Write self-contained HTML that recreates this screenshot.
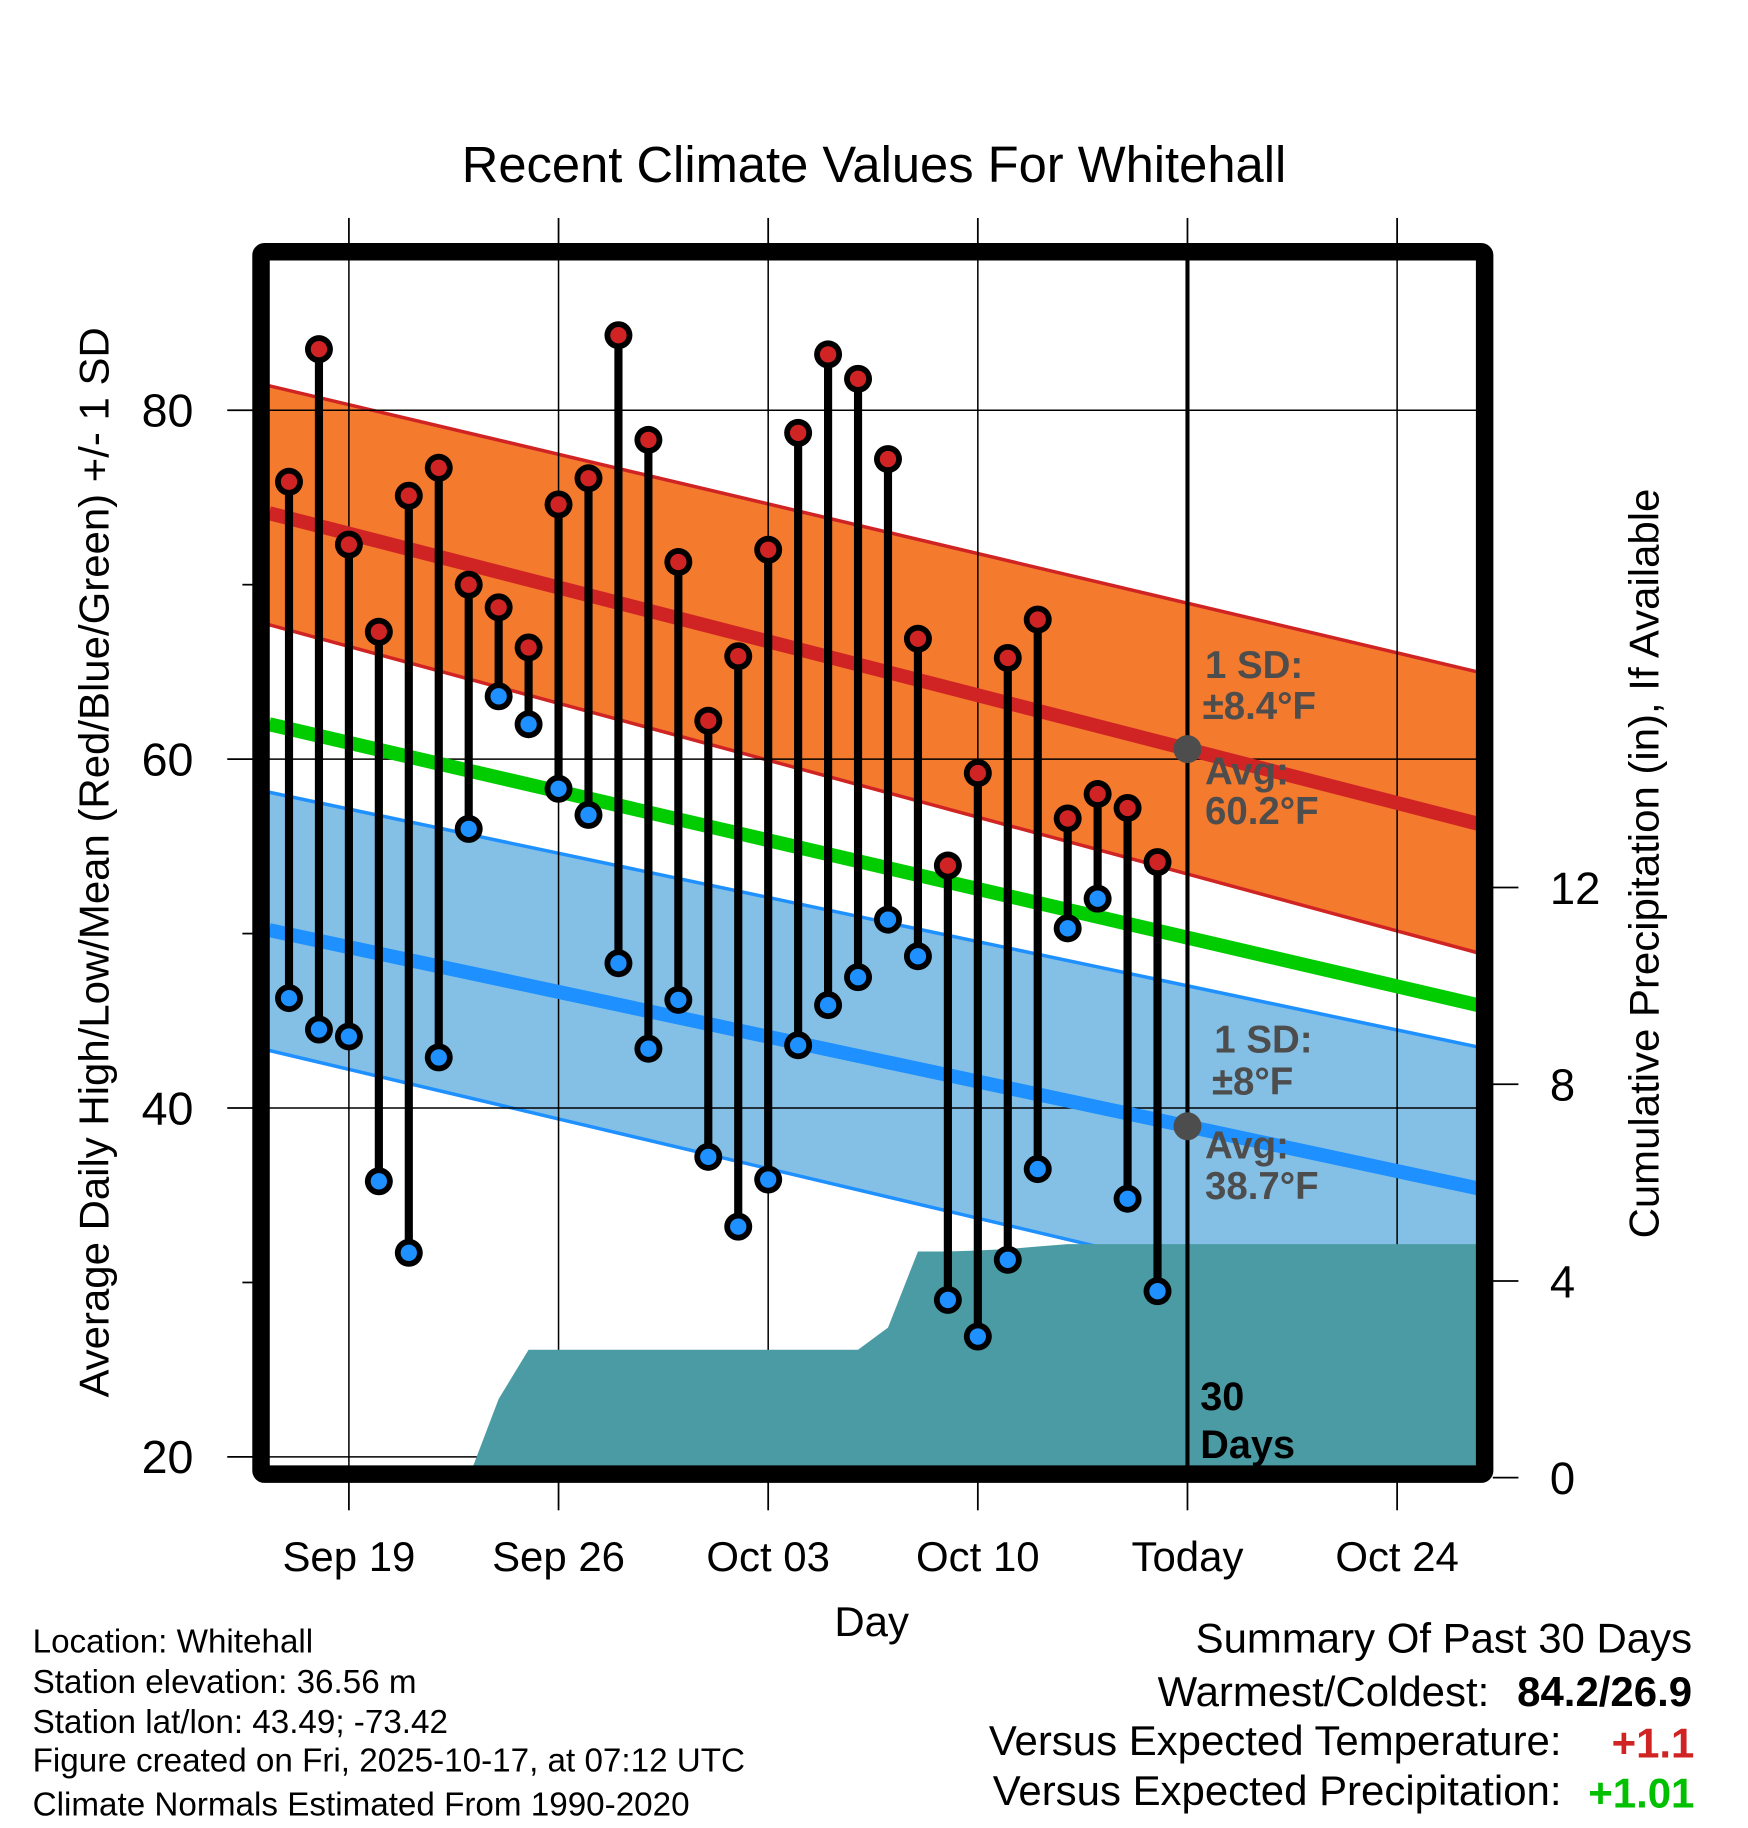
<!DOCTYPE html>
<html><head><meta charset="utf-8"><style>
html,body{margin:0;padding:0;background:#fff}
svg{display:block;font-family:"Liberation Sans",Arial,sans-serif}
</style></head><body>
<svg id="chart" width="1748" height="1828" viewBox="0 0 1500 1568.6" xmlns="http://www.w3.org/2000/svg">
<defs><clipPath id="plotclip"><rect x="231" y="223" width="1037" height="1035"/></clipPath></defs>
<rect x="0" y="0" width="1500" height="1568.6" fill="#fff"/>
<g id="plot" clip-path="url(#plotclip)"></g>
<g id="over"></g>
<text x="750" y="156" font-size="43.5" text-anchor="middle">Recent Climate Values For Whitehall</text>
<text transform="translate(93,740) rotate(-90)" font-size="36" text-anchor="middle">Average Daily High/Low/Mean (Red/Blue/Green) +/- 1 SD</text>
<text transform="translate(1423,741) rotate(-90)" font-size="36" text-anchor="middle">Cumulative Precipitation (in), If Available</text>
<text x="748" y="1404" font-size="36" text-anchor="middle">Day</text>
<g font-size="28.5">
<text x="28" y="1418">Location: Whitehall</text>
<text x="28" y="1453">Station elevation: 36.56 m</text>
<text x="28" y="1487">Station lat/lon: 43.49; -73.42</text>
<text x="28" y="1520">Figure created on Fri, 2025-10-17, at 07:12 UTC</text>
<text x="28" y="1558">Climate Normals Estimated From 1990-2020</text>
</g>
<g font-size="36">
<text x="1452" y="1418" text-anchor="end">Summary Of Past 30 Days</text>
<text x="1278" y="1464" text-anchor="end">Warmest/Coldest:</text>
<text x="1452" y="1464" text-anchor="end" font-weight="bold">84.2/26.9</text>
<text x="1340" y="1506" text-anchor="end">Versus Expected Temperature:</text>
<text x="1454" y="1508" text-anchor="end" font-weight="bold" fill="#D02424">+1.1</text>
<text x="1340" y="1549" text-anchor="end">Versus Expected Precipitation:</text>
<text x="1454" y="1551" text-anchor="end" font-weight="bold" fill="#00C000">+1.01</text>
</g>
</svg>
<script>
const dayLabels=["Sep 19","Sep 26","Oct 03","Oct 10","Today","Oct 24"];
const dayLabelIdx=[2,9,16,23,30,37];
const highs=[75.9,83.5,72.3,67.3,75.1,76.7,70.0,68.7,66.4,74.6,76.1,84.3,78.3,71.3,62.2,65.9,72.0,78.7,83.2,81.8,77.2,66.9,53.9,59.2,65.8,68.0,56.6,58.0,57.2,54.1];
const lows=[46.3,44.5,44.1,35.8,31.7,42.9,56.0,63.6,62.0,58.3,56.8,48.3,43.4,46.2,37.2,33.2,35.9,43.6,45.9,47.5,50.8,48.7,29.0,26.9,31.3,36.5,50.3,52.0,34.8,29.5];
const precip=[0,0,0,0,0,0,0,1.6,2.6,2.6,2.6,2.6,2.6,2.6,2.6,2.6,2.6,2.6,2.6,2.6,3.05,4.6,4.6,4.62,4.65,4.7,4.75,4.75,4.75,4.75,4.75];
const normStart=[81.4,74.1,67.7,62.0,58.1,50.2,43.3];
const normEnd=[65.0,56.3,48.9,45.9,43.5,35.4,26.9];
const yTicks=[20,40,60,80];
const yMinor=[30,50,70];
const pTicks=[0,4,8,12];

const NS="http://www.w3.org/2000/svg";
const X0=231,X1=1268;
function xs(d){return 248+25.7*d;}
function ys(v){return 352+(80-v)*14.97;}
function yp(p){return 1268-p*42.2;}
function mk(par,tag,at){const e=document.createElementNS(NS,tag);for(const k in at)e.setAttribute(k,at[k]);par.appendChild(e);return e;}
const plot=document.getElementById('plot'),over=document.getElementById('over');
function band(i,j,fill,name){const p=mk(plot,'polygon',{points:`${X0},${ys(normStart[i])} ${X1},${ys(normEnd[i])} ${X1},${ys(normEnd[j])} ${X0},${ys(normStart[j])}`,fill:fill});

}
function line(i,col,w,name){const l=mk(plot,'line',{x1:X0,y1:ys(normStart[i]),x2:X1,y2:ys(normEnd[i]),stroke:col,'stroke-width':w});

}
band(0,2,'#F47A2E','high-sd-band');line(0,'#D02424',3,'high-sd-upper');line(2,'#D02424',3,'high-sd-lower');
band(4,6,'#84C0E6','low-sd-band');line(4,'#1E90FF',3,'low-sd-upper');line(6,'#1E90FF',3,'low-sd-lower');
// grid
yTicks.forEach(v=>{const g=mk(plot,'line',{x1:X0,x2:X1,y1:ys(v),y2:ys(v),stroke:'#000','stroke-width':1.3});

});
dayLabelIdx.forEach(d=>{const g=mk(plot,'line',{x1:xs(d),x2:xs(d),y1:223,y2:1258,stroke:'#000','stroke-width':1.3});

});
// precip
let pts=`${X0},${yp(0)} `;precip.forEach((p,i)=>{pts+=`${xs(i)},${yp(p)} `;});pts+=`${X1},${yp(precip[precip.length-1])} ${X1},${yp(0)}`;
const pp=mk(plot,'polygon',{points:pts,fill:'#4A9BA4'});


line(1,'#D02424',12,'high-average-line');
line(3,'#00CC00',12,'mean-average-line');
line(5,'#1E90FF',12,'low-average-line');
// stems
highs.forEach((h,i)=>{const s=mk(plot,'line',{x1:xs(i),x2:xs(i),y1:ys(h),y2:ys(lows[i]),stroke:'#000','stroke-width':7});

});
function dot(x,y,col,name){const g=mk(plot,'g',{});


mk(g,'circle',{cx:x,cy:y,r:12,fill:'#000'});mk(g,'circle',{cx:x,cy:y,r:7,fill:col});}
highs.forEach((h,i)=>dot(xs(i),ys(h),'#D02424','high-point'));
lows.forEach((l,i)=>dot(xs(i),ys(l),'#1E90FF','low-point'));
// today line & markers
const tl=mk(plot,'line',{x1:xs(30),x2:xs(30),y1:223,y2:1260,stroke:'#000','stroke-width':3.5});


const tx=xs(30);
const ha=normStart[1]+(normEnd[1]-normStart[1])*(tx-X0)/(X1-X0);
const la=normStart[5]+(normEnd[5]-normStart[5])*(tx-X0)/(X1-X0);
[[ha,'today-high-avg-marker'],[la,'today-low-avg-marker']].forEach(([v,n])=>{const c=mk(plot,'circle',{cx:tx,cy:ys(v),r:12,fill:'#4d4d4d'});

});
function lbl(par,x,y,t,o){const e=mk(par,'text',Object.assign({x:x,y:y},o||{}));e.textContent=t;return e;}
const ga={'font-size':33,'font-weight':'bold',fill:'#4d4d4d'};
[[1034,582,'1 SD:'],[1032,617,'±8.4°F'],[1034,673,'Avg:'],[1034,707,'60.2°F'],[1042,903,'1 SD:'],[1040,939,'±8°F'],[1034,994,'Avg:'],[1034,1029,'38.7°F']].forEach(a=>{const e=lbl(plot,a[0],a[1],a[2],ga);

});
const d1=lbl(plot,1030,1210,'30',{'font-size':34,'font-weight':'bold'});


lbl(plot,1030,1251,'Days',{'font-size':34,'font-weight':'bold'});
// frame
const fr=mk(over,'rect',{x:224,y:216,width:1050,height:1049,fill:'none',stroke:'#000','stroke-width':15,rx:3});


// ticks & labels
yTicks.forEach(v=>{mk(over,'line',{x1:195,x2:217,y1:ys(v),y2:ys(v),stroke:'#000','stroke-width':1.5});
const t=lbl(over,166,ys(v)+14,String(v),{'font-size':40,'text-anchor':'end'});

});
yMinor.forEach(v=>mk(over,'line',{x1:208,x2:217,y1:ys(v),y2:ys(v),stroke:'#000','stroke-width':1.5}));
pTicks.forEach(p=>{mk(over,'line',{x1:1281,x2:1303,y1:yp(p),y2:yp(p),stroke:'#000','stroke-width':1.5});
const t=lbl(over,1330,yp(p)+14,String(p),{'font-size':39});

});
dayLabelIdx.forEach((d,i)=>{mk(over,'line',{x1:xs(d),x2:xs(d),y1:187,y2:209,stroke:'#000','stroke-width':1.5});
mk(over,'line',{x1:xs(d),x2:xs(d),y1:1272,y2:1296,stroke:'#000','stroke-width':1.5});
const t=lbl(over,xs(d),1348,dayLabels[i],{'font-size':36,'text-anchor':'middle'});

});
</script>
</body></html>
